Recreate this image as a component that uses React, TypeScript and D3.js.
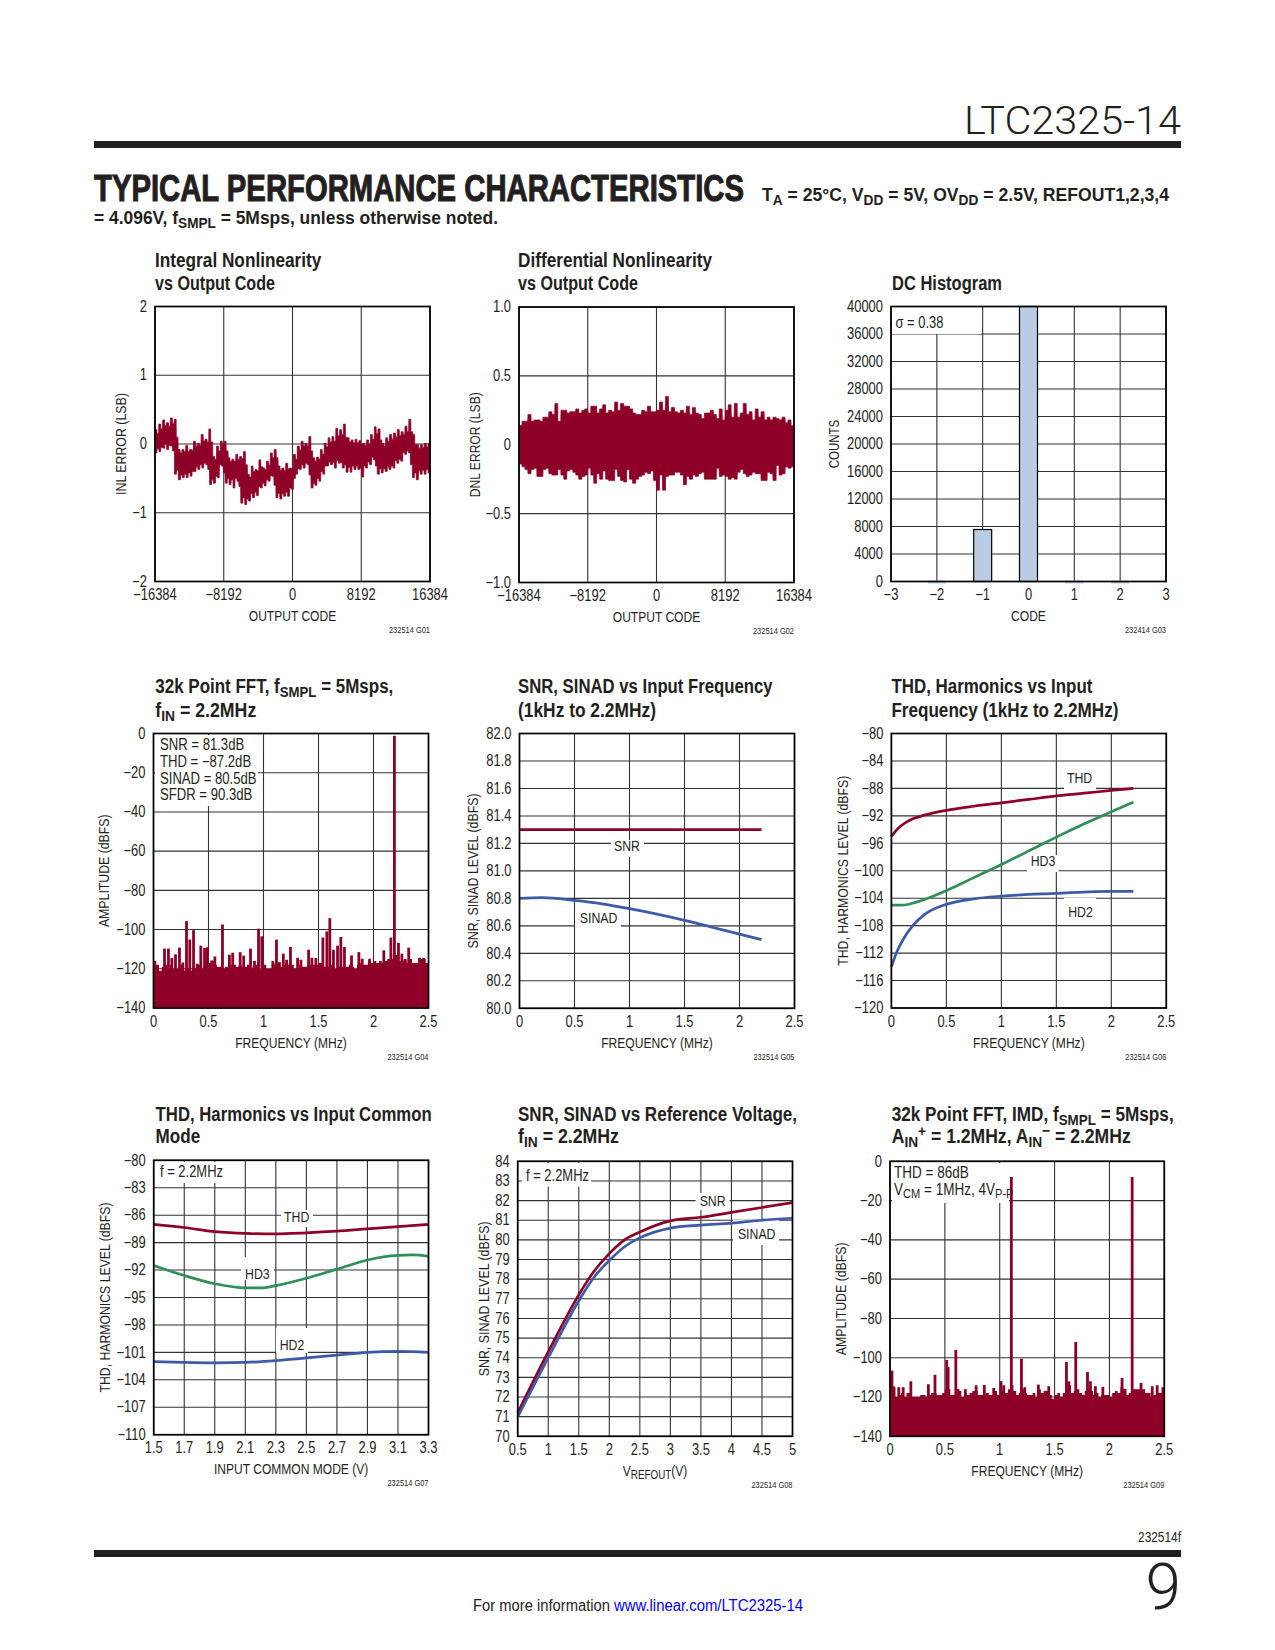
import React from 'react';
import * as d3 from 'd3';

const BASE = "'Liberation Sans',Arial,sans-serif";
const LIGHT = "Roboto,'Liberation Sans',sans-serif";
const NARROW_X = 0.82;
const INK = '#231f20';
const GRID = '#333333';
const RED = '#8f0028';
const BLUE = '#3c5aa8';
const GREEN = '#2f8f57';
const BAR = '#b9cce4';

// ---------- data ----------
const inlUpper = [0.21,0.15,0.29,0.22,0.35,0.27,0.31,0.26,0.38,0.30,0.36,0.10,-0.08,-0.13,-0.08,-0.11,-0.02,-0.11,-0.08,-0.09,0.04,-0.03,0.01,-0.02,0.14,0.04,0.07,0.03,0.22,0.03,-0.18,-0.22,-0.03,-0.10,0.04,-0.01,0.04,-0.10,-0.20,-0.25,-0.22,-0.25,-0.15,-0.22,-0.18,-0.21,-0.11,-0.30,-0.44,-0.48,-0.32,-0.40,-0.37,-0.39,-0.23,-0.33,-0.35,-0.37,-0.25,-0.30,-0.13,-0.20,-0.08,-0.20,-0.32,-0.38,-0.35,-0.39,-0.28,-0.36,-0.35,-0.37,-0.15,-0.22,-0.03,-0.09,0.04,-0.03,0.01,-0.03,0.11,-0.10,-0.20,-0.25,-0.19,-0.22,-0.08,-0.15,0.01,-0.04,0.09,0.03,0.11,0.04,0.23,0.12,0.21,0.14,0.29,0.10,0.09,0.03,0.06,0.02,0.07,0.02,0.05,-0.01,0.01,-0.02,0.06,0.00,0.14,0.07,0.25,0.15,0.22,0.06,0.01,-0.03,0.09,0.04,0.14,0.07,0.16,0.10,0.21,0.12,0.18,0.14,0.26,0.18,0.36,0.18,0.14,-0.01,-0.01,-0.06,-0.01,-0.05,0.01,-0.04,0.01];
const inlLower = [-0.13,-0.07,-0.11,-0.05,-0.06,0.00,-0.08,-0.02,-0.03,-0.10,-0.44,-0.38,-0.52,-0.45,-0.49,-0.44,-0.49,-0.42,-0.47,-0.40,-0.40,-0.33,-0.37,-0.30,-0.35,-0.28,-0.30,-0.37,-0.59,-0.52,-0.57,-0.47,-0.49,-0.30,-0.32,-0.42,-0.57,-0.50,-0.59,-0.52,-0.64,-0.50,-0.54,-0.62,-0.86,-0.78,-0.88,-0.80,-0.83,-0.72,-0.78,-0.70,-0.75,-0.62,-0.64,-0.57,-0.61,-0.52,-0.54,-0.46,-0.47,-0.60,-0.78,-0.72,-0.80,-0.72,-0.76,-0.70,-0.76,-0.64,-0.66,-0.50,-0.44,-0.36,-0.37,-0.30,-0.35,-0.28,-0.30,-0.45,-0.64,-0.57,-0.60,-0.50,-0.54,-0.40,-0.44,-0.32,-0.32,-0.26,-0.30,-0.27,-0.35,-0.24,-0.28,-0.27,-0.35,-0.30,-0.41,-0.34,-0.41,-0.32,-0.37,-0.32,-0.37,-0.35,-0.48,-0.32,-0.35,-0.26,-0.30,-0.19,-0.23,-0.32,-0.44,-0.36,-0.42,-0.36,-0.40,-0.33,-0.37,-0.32,-0.35,-0.24,-0.28,-0.22,-0.25,-0.12,-0.15,-0.10,-0.13,-0.30,-0.49,-0.42,-0.52,-0.39,-0.44,-0.38,-0.44,-0.37,-0.42];
const dnlUpper = [.14,.17,.17,.22,.17,.18,.18,.17,.20,.20,.24,.22,.30,.17,.25,.25,.23,.24,.24,.26,.23,.25,.26,.23,.28,.28,.23,.26,.29,.23,.25,.24,.31,.25,.30,.28,.28,.26,.23,.22,.22,.25,.24,.28,.24,.24,.25,.31,.25,.35,.24,.27,.24,.23,.25,.23,.28,.22,.27,.23,.22,.19,.23,.23,.25,.22,.19,.26,.18,.25,.29,.20,.30,.20,.23,.30,.22,.24,.18,.26,.20,.24,.18,.20,.18,.20,.19,.18,.20,.16,.18,.14];
const dnlLower = [-.14,-.16,-.18,-.21,-.18,-.17,-.23,-.23,-.18,-.17,-.21,-.22,-.22,-.18,-.22,-.25,-.19,-.18,-.20,-.22,-.25,-.23,-.22,-.17,-.22,-.28,-.21,-.25,-.19,-.25,-.26,-.26,-.18,-.23,-.26,-.27,-.18,-.25,-.28,-.25,-.23,-.22,-.20,-.21,-.19,-.26,-.33,-.22,-.33,-.23,-.22,-.22,-.20,-.20,-.22,-.29,-.23,-.25,-.22,-.23,-.21,-.20,-.25,-.25,-.25,-.25,-.17,-.23,-.22,-.23,-.25,-.24,-.25,-.20,-.18,-.21,-.23,-.22,-.20,-.21,-.21,-.26,-.26,-.20,-.21,-.26,-.15,-.22,-.21,-.16,-.17,-.16];

const histCodes = [-2, -1, 0, 1, 2];
const histCounts = [5, 7560, 40000, 5, 5];

const fftFloor = [-116,-118,-121,-119,-118,-120,-118,-120,-120,-119,-118,-121,-120,-121,-120,-120,-118,-120,-119,-118,-117,-116,-118,-119,-119,-120,-119,-120,-118,-118,-119,-118,-119,-119,-118,-119,-120,-118,-120,-121,-118,-120,-120,-118,-117,-117,-119,-118,-117,-118,-118,-120,-120,-118,-119,-119,-118,-118,-118,-118,-117,-117,-119,-119,-118,-119,-120,-119,-119,-120,-119,-118,-119,-120,-118,-117,-118,-118,-116,-117,-116,-117,-116,-117,-116,-115,-115,-113,-113,-116,-116,-115,-117,-115,-117,-117,-117,-115,-115,-117];
const fftSpikeF = [.10,.136,.167,.2,.236,.267,.30,.33,.364,.397,.43,.464,.49,.53,.558,.627,.69,.72,.788,.82,.882,.918,.955,.985,1.085,1.118,1.145,1.18,1.21,1.245,1.31,1.34,1.41,1.44,1.476,1.54,1.576,1.603,1.636,1.673,1.703,1.736,1.8,1.867,1.897,1.964,2.094,2.158,2.19,2.227,2.258,2.288,2.32,2.418,2.455];
const fftSpikeDb = [-109.7,-109.7,-114.5,-112.6,-109.2,-116.8,-95.7,-105.1,-100.3,-117.4,-108.2,-109.4,-109,-115.7,-113.7,-97.4,-112.8,-111.8,-111.5,-113.3,-109.7,-116,-99.5,-103.4,-116,-105.1,-116.6,-112.3,-115.4,-108.9,-114.4,-115.4,-110.3,-114.4,-114.5,-104.1,-100.9,-94.2,-110.3,-108.2,-103.8,-108.9,-113.2,-111.5,-114.9,-114.9,-110.6,-104.1,-1.2,-106.8,-112.3,-115.4,-109.2,-114.4,-114.5];

const imdFloor = [-115,-115,-120,-119,-118,-120,-118,-118,-120,-120,-120,-119,-119,-120,-119,-118,-118,-119,-119,-118,-116,-116,-119,-119,-116,-117,-120,-118,-119,-118,-117,-117,-119,-119,-119,-118,-119,-119,-117,-119,-117,-114,-118,-116,-114,-117,-119,-118,-116,-118,-119,-119,-118,-120,-116,-118,-117,-117,-119,-121,-119,-118,-120,-118,-116,-114,-118,-117,-116,-118,-119,-117,-116,-117,-119,-118,-120,-119,-119,-119,-120,-118,-117,-118,-115,-116,-119,-118,-116,-116,-116,-116,-116,-118,-118,-120,-119,-118,-118,-118];
const imdSpikeF = [.018,.03,.08,.12,.19,.35,.41,.517,.53,.60,.62,.687,.785,.86,.945,1.012,1.106,1.198,1.228,1.352,1.447,1.608,1.63,1.693,1.8,1.827,1.872,1.94,2.115,2.143,2.207,2.288,2.39,2.435,2.487];
const imdSpikeDb = [-106.6,-114.5,-115,-115,-112,-113.5,-108.7,-101.1,-104.7,-96,-116,-116,-114,-113.9,-115.4,-111.9,-8,-100.5,-115,-113.7,-114.5,-102.2,-112,-92,-107.3,-112,-114.5,-114.8,-110.3,-116,-8,-112.8,-114.5,-114,-115];

const snrFreqX = [0, 2.2];
const snrFreqY = [81.3, 81.3];
const sinadFreqX = [0,.2,.5,.75,1,1.25,1.5,1.75,2,2.2];
const sinadFreqY = [80.8,80.805,80.785,80.76,80.725,80.685,80.64,80.59,80.54,80.5];

const thdFreqX = [0,.05,.1,.2,.3,.5,.75,1,1.25,1.5,1.75,2,2.2];
const thdFreqY = [-95,-94,-93.3,-92.4,-91.9,-91.2,-90.6,-90.1,-89.6,-89.1,-88.7,-88.3,-88];
const hd3FreqX = [0,.1,.2,.3,.5,.75,1,1.25,1.5,1.75,2,2.2];
const hd3FreqY = [-105,-105,-104.7,-104.2,-102.9,-101,-99.1,-97.1,-95.1,-93.2,-91.4,-90];
const hd2FreqX = [0,.05,.1,.2,.3,.5,.75,1,1.5,2,2.2];
const hd2FreqY = [-114,-111.8,-110.2,-107.9,-106.4,-104.9,-104.1,-103.7,-103.3,-103,-103];

const cmX = [1.5,1.7,1.9,2.1,2.3,2.5,2.7,2.9,3.1,3.3];
const thdCmY = [-87,-87.35,-87.8,-88,-88.05,-87.93,-87.75,-87.5,-87.25,-87];
const hd3CmX = [1.5,1.7,1.9,2.1,2.2,2.3,2.5,2.7,2.9,3.1,3.2,3.3];
const hd3CmY = [-91.5,-92.6,-93.5,-93.95,-93.95,-93.7,-92.9,-91.9,-90.9,-90.4,-90.35,-90.5];
const hd2CmY = [-102,-102.1,-102.15,-102.1,-101.9,-101.6,-101.3,-101,-100.9,-101];

const refX = [.5,1,1.5,1.75,2,2.25,2.5,3,3.5,4,4.5,5];
const snrRefY = [71.2,74.3,77.2,78.4,79.3,80,80.4,80.97,81.15,81.4,81.65,81.9];
const sinadRefY = [71,74,76.9,78.1,78.95,79.65,80.1,80.6,80.75,80.85,81,81.1];

const codeTicks = [-16384, -8192, 0, 8192, 16384];
const inlTicks = [-2, -1, 0, 1, 2];
const dnlTicks = [-1, -0.5, 0, 0.5, 1];
const histXTicks = [-3, -2, -1, 0, 1, 2, 3];
const histYTicks = [0,4000,8000,12000,16000,20000,24000,28000,32000,36000,40000];
const freqTicks = [0, 0.5, 1, 1.5, 2, 2.5];
const fftYTicks = [0,-20,-40,-60,-80,-100,-120,-140];
const snrYTicks = [80,80.2,80.4,80.6,80.8,81,81.2,81.4,81.6,81.8,82];
const thdYTicks = [-80,-84,-88,-92,-96,-100,-104,-108,-112,-116,-120];
const cmXTicks = [1.5,1.7,1.9,2.1,2.3,2.5,2.7,2.9,3.1,3.3];
const cmYTicks = [-80,-83,-86,-89,-92,-95,-98,-101,-104,-107,-110];
const refXTicks = [.5,1,1.5,2,2.5,3,3.5,4,4.5,5];
const refYTicks = [70,71,72,73,74,75,76,77,78,79,80,81,82,83,84];

// ---------- helpers ----------
const minus = (s: string) => s.replace('-', '\u2212');
const fmtPlain = (v: number) => minus(String(v));
const fmt1 = (v: number) => minus(v.toFixed(1));
const fmtDnl = (v: number) => (v === 0 ? '0' : minus(v.toFixed(1)));

type Box = { x0: number; x1: number; y0: number; y1: number };
type Rect = { left: number; right: number; top: number; bottom: number };

// Horizontally condensed text: no narrow face is installed.
function N(p: { x: number; y: number; size?: number; anchor?: string; fill?: string; children: React.ReactNode }) {
  return (
    <text transform={`translate(${p.x},${p.y}) scale(${NARROW_X},1)`} fontSize={p.size || 15.8} textAnchor={p.anchor || 'start'}
      fontFamily={BASE} fill={p.fill || INK}>{p.children}</text>
  );
}

function Plot(p: {
  r: Rect; xDomain: number[]; yDomain: number[]; xTicks: number[]; yTicks: number[];
  xFmt?: (v: number) => string; yFmt?: (v: number) => string;
  xTitle: React.ReactNode; yTitle: string; yTitleX: number; yTitleLen: number;
  note: string; boxes?: Box[]; children?: (x: any, y: any) => React.ReactNode; overlay?: React.ReactNode;
}) {
  const { r } = p;
  const x = d3.scaleLinear().domain(p.xDomain).range([r.left, r.right]);
  const y = d3.scaleLinear().domain(p.yDomain).range([r.bottom, r.top]);
  const xFmt = p.xFmt || fmtPlain;
  const yFmt = p.yFmt || fmtPlain;
  const cy = (r.top + r.bottom) / 2;
  const cx = (r.left + r.right) / 2;
  return (
    <g>
      {p.xTicks.map((t) => (
        <line key={'vg' + t} x1={x(t)} x2={x(t)} y1={r.top} y2={r.bottom} stroke={GRID} strokeWidth={1.1} />
      ))}
      {p.yTicks.map((t) => (
        <line key={'hg' + t} x1={r.left} x2={r.right} y1={y(t)} y2={y(t)} stroke={GRID} strokeWidth={1.1} />
      ))}
      {(p.boxes || []).map((b, i) => (
        <rect key={'b' + i} x={b.x0} y={b.y0} width={b.x1 - b.x0} height={b.y1 - b.y0} fill="#fff" />
      ))}
      {p.children && p.children(x, y)}
      <rect x={r.left} y={r.top} width={r.right - r.left} height={r.bottom - r.top} fill="none" stroke="#000" strokeWidth={1.7} />
      {p.overlay}
      {p.xTicks.map((t) => (
        <N key={'xt' + t} x={x(t)} y={r.bottom + 18.5} anchor="middle">{xFmt(t)}</N>
      ))}
      {p.yTicks.map((t) => (
        <N key={'yt' + t} x={r.left - 8} y={y(t) + 5.2} anchor="end">{yFmt(t)}</N>
      ))}
      <N x={cx} y={r.bottom + 39.5} size={14.7} anchor="middle">{p.xTitle}</N>
      <text transform={`translate(${p.yTitleX},${cy}) rotate(-90)`} fontSize={14} textAnchor="middle" fontFamily={BASE} fill={INK}
        textLength={p.yTitleLen} lengthAdjust="spacingAndGlyphs">{p.yTitle}</text>
      <N x={r.right} y={r.bottom + 51.5} size={9.1} anchor="end">{p.note}</N>
    </g>
  );
}

function Label(p: { x: number; y: number; text: string }) {
  return <N x={p.x} y={p.y} size={15} anchor="middle">{p.text}</N>;
}

function Curve(p: { xs: number[]; ys: number[]; x: any; y: any; color: string }) {
  const path = d3.line<number>()
    .x((_, i) => p.x(p.xs[i]))
    .y((v) => p.y(v))
    .curve(d3.curveMonotoneX)(p.ys) as string;
  return <path d={path} fill="none" stroke={p.color} strokeWidth={2.7} />;
}

function Band(p: { upper: number[]; lower: number[]; x: any; y: any }) {
  const [c0, c1] = p.x.domain();
  const columns = d3.range(0, 1500).map((i) => i / 1499);
  const at = (arr: number[], t: number) => arr[Math.min(arr.length - 1, Math.floor(t * arr.length))];
  const d = d3.area<number>()
    .x((t) => p.x(c0 + t * (c1 - c0)))
    .y0((t) => p.y(at(p.lower, t)))
    .y1((t) => p.y(at(p.upper, t)))(columns) as string;
  return <path d={d} fill={RED} stroke={RED} strokeWidth={0.8} />;
}

function Fft(p: { floor: number[]; spikeF: number[]; spikeDb: number[]; x: any; y: any }) {
  const [f0, f1] = p.x.domain();
  const bin = (f1 - f0) / p.floor.length;
  const base = p.y.domain()[0];
  const floorArea = d3.area<number>()
    .x((_, i) => p.x(i * bin))
    .y0(p.y(base))
    .y1((v) => p.y(v))
    .curve(d3.curveStepAfter)([...p.floor, p.floor[p.floor.length - 1]]) as string;
  return (
    <g fill={RED}>
      <path d={floorArea} />
      {p.spikeF.map((f, i) => (
        <rect key={'s' + i} x={p.x(f) - 1.4} y={p.y(p.spikeDb[i])} width={2.8} height={p.y(base) - p.y(p.spikeDb[i])} />
      ))}
    </g>
  );
}

type Span = { t: string; k?: 'sub' | 'sup' };
function Title(p: { x: number; y: number; w: number; spans: (string | Span)[]; size?: number; stroke?: number }) {
  const size = p.size || 19.5;
  let shift = 0;
  return (
    <text x={p.x} y={p.y} fontSize={size} fontWeight={700} fontFamily={BASE} fill={INK}
      stroke={p.stroke ? INK : 'none'} strokeWidth={p.stroke || 0}
      textLength={p.w} lengthAdjust="spacingAndGlyphs">
      {p.spans.map((s, i) => {
        const sp: Span = typeof s === 'string' ? { t: s } : s;
        const target = sp.k === 'sub' ? size * 0.2 : sp.k === 'sup' ? -size * 0.35 : 0;
        const dy = target - shift;
        shift = target;
        return <tspan key={i} dy={dy} fontSize={sp.k ? size * 0.78 : size}>{sp.t}</tspan>;
      })}
    </text>
  );
}

const sub = (t: string): Span => ({ t, k: 'sub' });
const sup = (t: string): Span => ({ t, k: 'sup' });

export default function App() {
  const R1: Rect = { left: 155, right: 430, top: 306.5, bottom: 581.5 };
  const R2: Rect = { left: 519, right: 794, top: 307, bottom: 582.5 };
  const R3: Rect = { left: 891, right: 1166, top: 306.5, bottom: 581.5 };
  const R4: Rect = { left: 153.5, right: 428.5, top: 733.5, bottom: 1008 };
  const R5: Rect = { left: 519.5, right: 794.5, top: 733.5, bottom: 1008.3 };
  const R6: Rect = { left: 891.4, right: 1166.3, top: 733.5, bottom: 1008 };
  const R7: Rect = { left: 153.7, right: 428.5, top: 1160.3, bottom: 1434.7 };
  const R8: Rect = { left: 517.7, right: 792.5, top: 1161.3, bottom: 1436.3 };
  const R9: Rect = { left: 890, right: 1164.3, top: 1161.3, bottom: 1436.3 };

  return (
    <svg width={1275} height={1650} viewBox="0 0 1275 1650" style={{ position: 'absolute', left: 0, top: 0, background: '#fff' }}>
      {/* header */}
      <text x={964} y={133.5} fontSize={39} fontFamily={LIGHT} fontWeight={300} fill={INK} textLength={217} lengthAdjust="spacingAndGlyphs">LTC2325-14</text>
      <rect x={94} y={141} width={1087} height={7} fill={INK} />
      <Title x={94} y={200.5} w={650} size={36} stroke={1} spans={['TYPICAL PERFORMANCE CHARACTERISTICS']} />
      <Title x={762} y={201} w={407} size={19} spans={['T', sub('A'), ' = 25°C, V', sub('DD'), ' = 5V, OV', sub('DD'), ' = 2.5V, REFOUT1,2,3,4']} />
      <Title x={94} y={224} w={404} size={19} spans={['= 4.096V, f', sub('SMPL'), ' = 5Msps, unless otherwise noted.']} />

      {/* chart titles */}
      <Title x={155} y={267} w={166.4} spans={['Integral Nonlinearity']} />
      <Title x={155} y={290} w={120} spans={['vs Output Code']} />
      <Title x={518} y={267} w={194} spans={['Differential Nonlinearity']} />
      <Title x={518} y={290} w={120} spans={['vs Output Code']} />
      <Title x={892} y={290} w={110} spans={['DC Histogram']} />
      <Title x={155.3} y={693} w={238} spans={['32k Point FFT, f', sub('SMPL'), ' = 5Msps,']} />
      <Title x={155.3} y={716.7} w={101} spans={['f', sub('IN'), ' = 2.2MHz']} />
      <Title x={518} y={693} w={254.6} spans={['SNR, SINAD vs Input Frequency']} />
      <Title x={518} y={716.7} w={138} spans={['(1kHz to 2.2MHz)']} />
      <Title x={891.4} y={693} w={201} spans={['THD, Harmonics vs Input']} />
      <Title x={891.4} y={716.7} w={227} spans={['Frequency (1kHz to 2.2MHz)']} />
      <Title x={155.6} y={1120.7} w={276} spans={['THD, Harmonics vs Input Common']} />
      <Title x={155.6} y={1143} w={44.6} spans={['Mode']} />
      <Title x={518} y={1120.7} w={279} spans={['SNR, SINAD vs Reference Voltage,']} />
      <Title x={518} y={1143} w={101} spans={['f', sub('IN'), ' = 2.2MHz']} />
      <Title x={891.7} y={1120.7} w={282} spans={['32k Point FFT, IMD, f', sub('SMPL'), ' = 5Msps,']} />
      <Title x={891.7} y={1143} w={239} spans={['A', sub('IN'), sup('+'), ' = 1.2MHz, A', sub('IN'), sup('\u2212'), ' = 2.2MHz']} />

      {/* G01 */}
      <Plot r={R1} xDomain={[-16384, 16384]} yDomain={[-2, 2]} xTicks={codeTicks} yTicks={inlTicks}
        xTitle="OUTPUT CODE" yTitle="INL ERROR (LSB)" yTitleX={126} yTitleLen={102} note="232514 G01">
        {(x, y) => <Band upper={inlUpper} lower={inlLower} x={x} y={y} />}
      </Plot>
      {/* G02 */}
      <Plot r={R2} xDomain={[-16384, 16384]} yDomain={[-1, 1]} xTicks={codeTicks} yTicks={dnlTicks} yFmt={fmtDnl}
        xTitle="OUTPUT CODE" yTitle="DNL ERROR (LSB)" yTitleX={480} yTitleLen={105} note="232514 G02">
        {(x, y) => <Band upper={dnlUpper} lower={dnlLower} x={x} y={y} />}
      </Plot>
      {/* G03 */}
      <Plot r={R3} xDomain={[-3, 3]} yDomain={[0, 40000]} xTicks={histXTicks} yTicks={histYTicks}
        xTitle="CODE" yTitle="COUNTS" yTitleX={838.6} yTitleLen={48.6} note="232414 G03"
        boxes={[{ x0: 892, x1: 981, y0: 307, y1: 334 }]}
        overlay={<N x={895.5} y={327.5}>σ = 0.38</N>}>
        {(x, y) => (
          <g>
            {histCodes.map((c, i) => (
              histCounts[i] > 1000
                ? <rect key={c} x={x(c) - 9} y={y(histCounts[i])} width={18} height={y(0) - y(histCounts[i])} fill={BAR} stroke="#000" strokeWidth={1.2} />
                : <rect key={c} x={x(c) - 9} y={y(0) - 1} width={18} height={3} fill={BAR} />
            ))}
          </g>
        )}
      </Plot>
      {/* G04 */}
      <Plot r={R4} xDomain={[0, 2.5]} yDomain={[-140, 0]} xTicks={freqTicks} yTicks={fftYTicks}
        xTitle="FREQUENCY (MHz)" yTitle="AMPLITUDE (dBFS)" yTitleX={109} yTitleLen={112.7} note="232514 G04"
        boxes={[{ x0: 155, x1: 258, y0: 735, y1: 806 }]}
        overlay={
          <g>
            <N x={160} y={750} size={16}>SNR = 81.3dB</N>
            <N x={160} y={766.7} size={16}>THD = −87.2dB</N>
            <N x={160} y={783.7} size={16}>SINAD = 80.5dB</N>
            <N x={160} y={800} size={16}>SFDR = 90.3dB</N>
          </g>
        }>
        {(x, y) => <Fft floor={fftFloor} spikeF={fftSpikeF} spikeDb={fftSpikeDb} x={x} y={y} />}
      </Plot>
      {/* G05 */}
      <Plot r={R5} xDomain={[0, 2.5]} yDomain={[80, 82]} xTicks={freqTicks} yTicks={snrYTicks} yFmt={fmt1}
        xTitle="FREQUENCY (MHz)" yTitle="SNR, SINAD LEVEL (dBFS)" yTitleX={478.4} yTitleLen={155} note="232514 G05"
        boxes={[{ x0: 611, x1: 644, y0: 840, y1: 857 }, { x0: 575, x1: 621, y0: 912, y1: 927 }]}
        overlay={<g><Label x={627} y={850.7} text="SNR" /><Label x={598.6} y={923} text="SINAD" /></g>}>
        {(x, y) => (
          <g>
            <Curve xs={snrFreqX} ys={snrFreqY} x={x} y={y} color={RED} />
            <Curve xs={sinadFreqX} ys={sinadFreqY} x={x} y={y} color={BLUE} />
          </g>
        )}
      </Plot>
      {/* G06 */}
      <Plot r={R6} xDomain={[0, 2.5]} yDomain={[-120, -80]} xTicks={freqTicks} yTicks={thdYTicks}
        xTitle="FREQUENCY (MHz)" yTitle="THD, HARMONICS LEVEL (dBFS)" yTitleX={848} yTitleLen={190} note="232514 G06"
        boxes={[{ x0: 1064, x1: 1096, y0: 770, y1: 789 }, { x0: 1027, x1: 1059, y0: 855, y1: 872 }, { x0: 1064, x1: 1096, y0: 898, y1: 920 }]}
        overlay={<g><Label x={1079.5} y={783} text="THD" /><Label x={1043} y={866} text="HD3" /><Label x={1080.5} y={916.7} text="HD2" /></g>}>
        {(x, y) => (
          <g>
            <Curve xs={thdFreqX} ys={thdFreqY} x={x} y={y} color={RED} />
            <Curve xs={hd3FreqX} ys={hd3FreqY} x={x} y={y} color={GREEN} />
            <Curve xs={hd2FreqX} ys={hd2FreqY} x={x} y={y} color={BLUE} />
          </g>
        )}
      </Plot>
      {/* G07 */}
      <Plot r={R7} xDomain={[1.5, 3.3]} yDomain={[-110, -80]} xTicks={cmXTicks} yTicks={cmYTicks} xFmt={fmt1}
        xTitle="INPUT COMMON MODE (V)" yTitle="THD, HARMONICS LEVEL (dBFS)" yTitleX={110} yTitleLen={190} note="232514 G07"
        boxes={[{ x0: 155, x1: 240, y0: 1162, y1: 1183 }, { x0: 281, x1: 313, y0: 1210, y1: 1227 }, { x0: 241, x1: 274, y0: 1257, y1: 1280 }, { x0: 276, x1: 308, y0: 1328, y1: 1353 }]}
        overlay={<g><Label x={296.7} y={1221.7} text="THD" /><Label x={257.4} y={1278.7} text="HD3" /><Label x={292} y={1350} text="HD2" />
          <N x={160} y={1176.7}>f = 2.2MHz</N></g>}>
        {(x, y) => (
          <g>
            <Curve xs={cmX} ys={thdCmY} x={x} y={y} color={RED} />
            <Curve xs={hd3CmX} ys={hd3CmY} x={x} y={y} color={GREEN} />
            <Curve xs={cmX} ys={hd2CmY} x={x} y={y} color={BLUE} />
          </g>
        )}
      </Plot>
      {/* G08 */}
      <Plot r={R8} xDomain={[0.5, 5]} yDomain={[70, 84]} xTicks={refXTicks} yTicks={refYTicks}
        xTitle={<>V<tspan dy={3} fontSize={12}>REFOUT</tspan><tspan dy={-3}>(V)</tspan></>}
        yTitle="SNR, SINAD LEVEL (dBFS)" yTitleX={488.6} yTitleLen={155} note="232514 G08"
        boxes={[{ x0: 522, x1: 591, y0: 1163, y1: 1186.7 }, { x0: 695.6, x1: 729.5, y0: 1193, y1: 1210 }, { x0: 733, x1: 779, y0: 1220, y1: 1245 }]}
        overlay={<g><Label x={712.6} y={1206} text="SNR" /><Label x={756.7} y={1239} text="SINAD" />
          <N x={526} y={1180.7}>f = 2.2MHz</N></g>}>
        {(x, y) => (
          <g>
            <Curve xs={refX} ys={snrRefY} x={x} y={y} color={RED} />
            <Curve xs={refX} ys={sinadRefY} x={x} y={y} color={BLUE} />
          </g>
        )}
      </Plot>
      {/* G09 */}
      <Plot r={R9} xDomain={[0, 2.5]} yDomain={[-140, 0]} xTicks={freqTicks} yTicks={fftYTicks}
        xTitle="FREQUENCY (MHz)" yTitle="AMPLITUDE (dBFS)" yTitleX={846} yTitleLen={113} note="232514 G09"
        boxes={[{ x0: 892, x1: 1009, y0: 1163, y1: 1203 }]}
        overlay={
          <g>
            <N x={894} y={1178} size={16.5}>THD = 86dB</N>
            <N x={894} y={1195} size={16.5}>V<tspan dy={3} fontSize={13.5}>CM</tspan><tspan dy={-3}> = 1MHz, 4V</tspan><tspan dy={3} fontSize={13.5}>P-P</tspan></N>
          </g>
        }>
        {(x, y) => <Fft floor={imdFloor} spikeF={imdSpikeF} spikeDb={imdSpikeDb} x={x} y={y} />}
      </Plot>

      {/* footer */}
      <N x={1181} y={1541.7} size={14.5} anchor="end">232514f</N>
      <rect x={94} y={1550} width={1087} height={7} fill={INK} />
      <text x={1181} y={1608.5} fontSize={64} textAnchor="end" fontFamily={LIGHT} fontWeight={300} fill={INK}>9</text>
      <text x={473} y={1611} fontSize={16} fontFamily={BASE} fill={INK} textLength={137} lengthAdjust="spacingAndGlyphs">For more information</text>
      <text x={614} y={1611} fontSize={16} fontFamily={BASE} fill="#0000ff" textLength={189} lengthAdjust="spacingAndGlyphs">www.linear.com/LTC2325-14</text>
    </svg>
  );
}
